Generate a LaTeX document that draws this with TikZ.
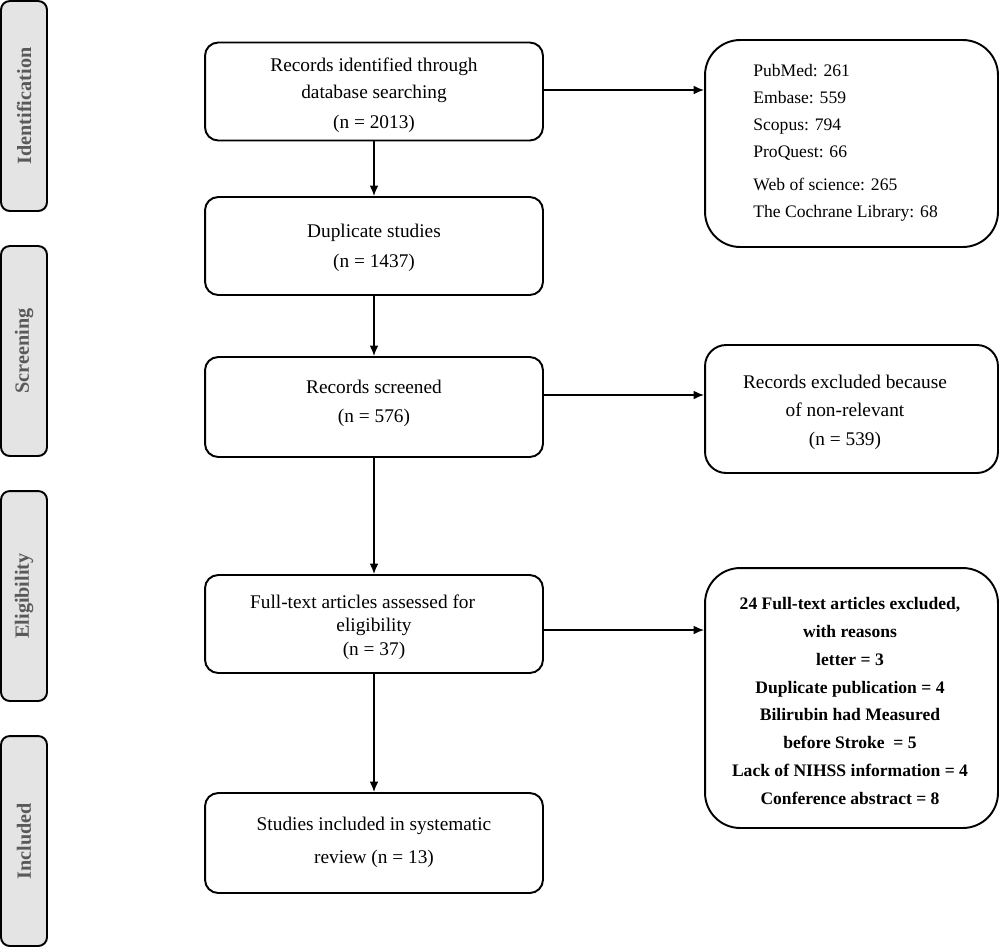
\documentclass[tikz,border=0pt]{standalone}
\usepackage{fontspec}
\setmainfont{Liberation Serif}
\usetikzlibrary{arrows.meta}
\definecolor{sidefill}{HTML}{E4E4E4}
\definecolor{sidetext}{HTML}{595959}
\begin{document}
\begin{tikzpicture}[x=0.02cm,y=-0.02cm,
  box/.style={draw, line width=1.1pt, rounded corners=7.5pt, inner sep=0pt, minimum width=6.76cm},
  btext/.style={align=center, inner sep=0pt},
  sidebox/.style={draw, line width=1.1pt, rounded corners=5pt, fill=sidefill,
    minimum width=0.92cm, minimum height=4.2cm, inner sep=0pt},
  sidelabel/.style={rotate=90, text=sidetext, font=\fontsize{11.5}{13}\selectfont\bfseries},
  arr/.style={line width=0.8pt, -{Latex[length=6pt,width=5pt]}},
  rbox/.style={draw, line width=1.1pt, inner sep=0pt, minimum width=5.86cm}
]
\useasboundingbox (0,0) rectangle (1000,948);
% side boxes
\node[sidebox] (s1) at (24,106) {};
\node[sidelabel] (t1) at (s1) {Identification};
\node[sidebox] (s2) at (24,351) {};
\node[sidelabel] (t2) at (s2) {Screening};
\node[sidebox] (s3) at (24,596) {};
\node[sidelabel] (t3) at (s3) {Eligibility};
\node[sidebox] (s4) at (24,841) {};
\node[sidelabel] (t4) at (s4) {Included};
% main boxes
\node[box, minimum height=1.96cm] (b1) at (374,91.5) {};
\node[btext, font=\fontsize{11}{15.6}\selectfont] (b1t) at (374,95)
  {Records identified through\\database searching\\[1pt](n = 2013)};
\node[box, minimum height=1.96cm] (b2) at (374,246) {};
\node[btext, font=\fontsize{11}{17}\selectfont] (b2t) at (374,247.5)
  {Duplicate studies\\(n = 1437)};
\node[box, minimum height=2.0cm] (b3) at (374,407) {};
\node[btext, font=\fontsize{11}{16.5}\selectfont] (b3t) at (374,403)
  {Records screened\\(n = 576)};
\node[box, minimum height=1.96cm] (b4) at (374,624) {};
\node[btext, font=\fontsize{11}{13.4}\selectfont] (b4t) at (374,627)
  {Full-text articles assessed for\hspace*{13pt}\\eligibility\\(n = 37)};
\node[box, minimum height=2.0cm] (b5) at (374,843) {};
\node[btext, font=\fontsize{11}{18.8}\selectfont] (b5t) at (374,842)
  {Studies included in systematic\\review (n = 13)};
% right boxes
\node[rbox, rounded corners=20pt, minimum height=4.14cm] (r1) at (851.5,143.5) {};
\node[anchor=north west, align=left, inner sep=0pt, font=\fontsize{10}{15.4}\selectfont] (r1t) at (753,64)
  {PubMed: 261\\Embase: 559\\Scopus: 794\\ProQuest: 66\\[3pt]Web of science: 265\\The Cochrane Library: 68};
\node[rbox, rounded corners=12pt, minimum height=2.56cm] (r2) at (851.5,409) {};
\node[btext, font=\fontsize{11}{16.2}\selectfont] (r2t) at (845,412)
  {Records excluded because\\of non-relevant\\(n = 539)};
\node[rbox, rounded corners=20pt, minimum height=5.2cm] (r3) at (851.5,698) {};
\node[btext, font=\fontsize{10}{15.9}\selectfont\bfseries] (r3t) at (850,701)
  {24 Full-text articles excluded,\\with reasons\\letter = 3\\Duplicate publication = 4\\Bilirubin had Measured\\before Stroke \ = 5\\Lack of NIHSS information = 4\\Conference abstract = 8};
% connectors
\coordinate (y1) at (0,90);
\coordinate (y2) at (0,395);
\coordinate (y3) at (0,630);
\draw[arr] (b1) -- (b2);
\draw[arr] (b2) -- (b3);
\draw[arr] (b3) -- (b4);
\draw[arr] (b4) -- (b5);
\draw[arr] (b1.east |- y1) -- (r1.west |- y1);
\draw[arr] (b3.east |- y2) -- (r2.west |- y2);
\draw[arr] (b4.east |- y3) -- (r3.west |- y3);
\end{tikzpicture}
\end{document}
